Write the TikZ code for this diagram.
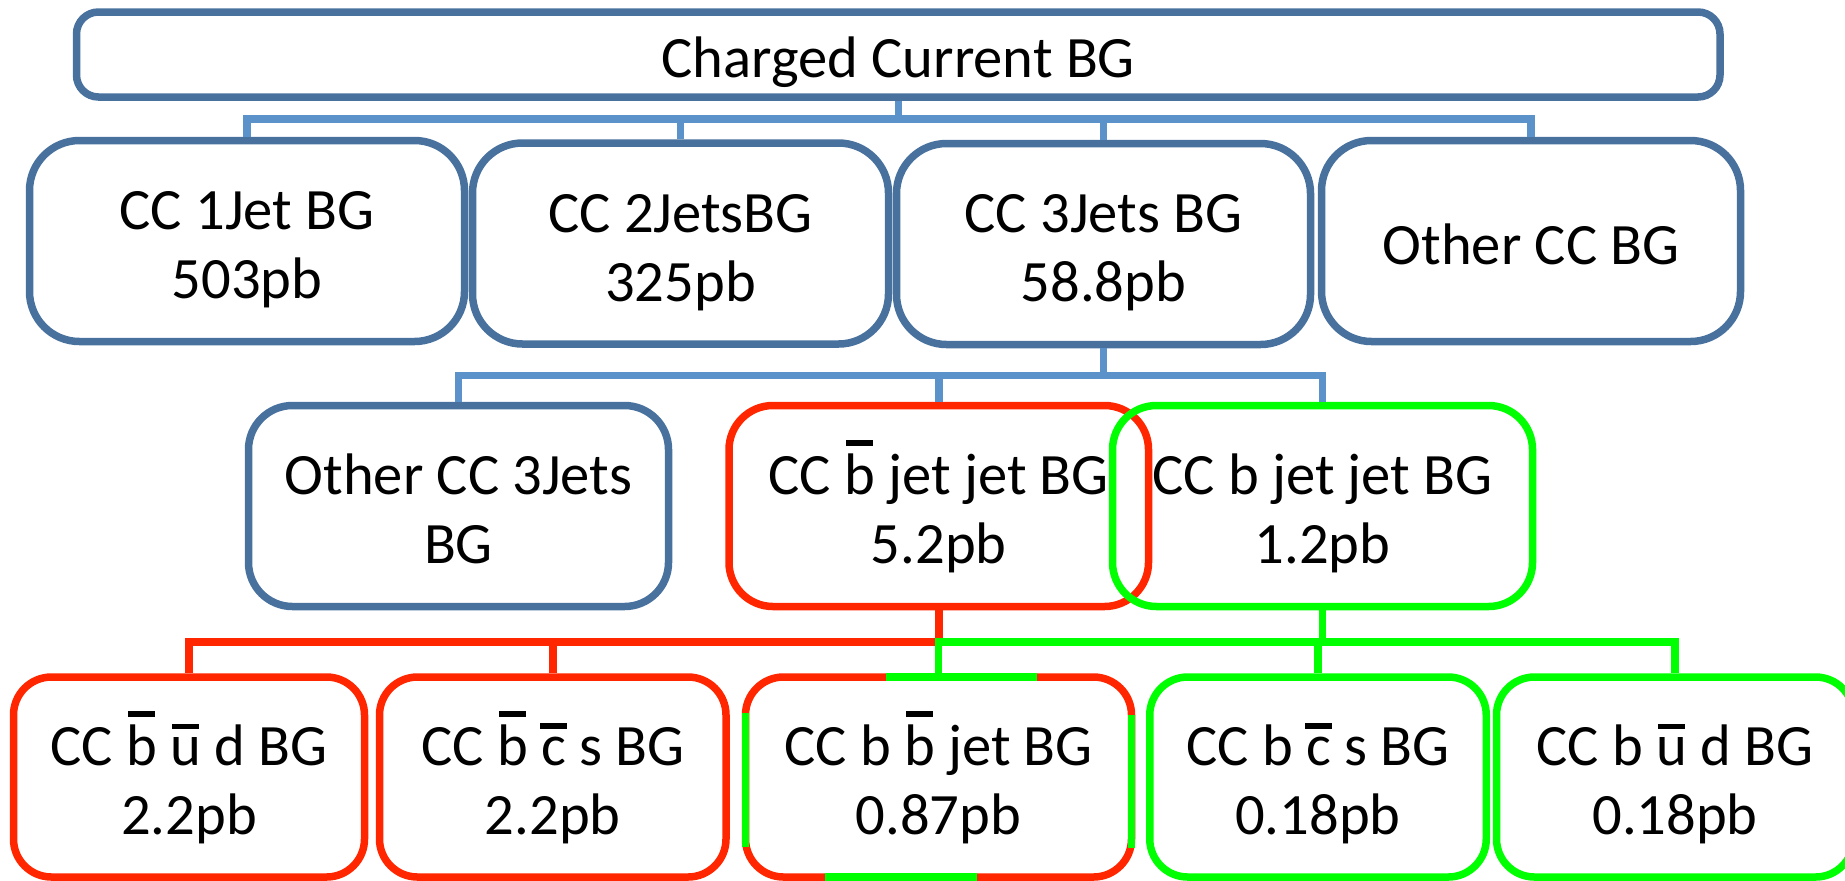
\documentclass[tikz,border=0pt]{standalone}
\usepackage{fontspec}
\setmainfont{Carlito}
\definecolor{bxblue}{HTML}{48719E}
\definecolor{cnblue}{HTML}{5B92C9}
\definecolor{myred}{HTML}{FF2600}
\definecolor{mygreen}{HTML}{00FF00}
\newsavebox\obbox
\newcommand\ob[1]{\leavevmode\sbox\obbox{#1}\rlap{\hbox to\wd\obbox{\hss\raisebox{\dimexpr\ht\obbox+4.3pt\relax}{\rule{0.46em}{2.8pt}}\hss}}\usebox\obbox}
\newcommand\ls{\rule[-0.19em]{0pt}{1.18em}}
\newcommand\boxfont{\fontsize{29.3}{34.5}\selectfont\lineskiplimit=-100pt\relax}
\begin{document}
\lineskiplimit=-100pt
\begin{tikzpicture}[x=0.5pt,y=-0.5pt,
  bx/.style={draw=bxblue, line width=3.75pt, align=center, inner sep=0pt, font=\boxfont},
  lone/.style={bx, minimum height=100.5pt, rounded corners=25pt},
  ltwo/.style={bx, minimum height=100.5pt, rounded corners=22pt},
  lthree/.style={bx, minimum height=100pt, rounded corners=19pt},
  redbx/.style={draw=myred},
  grnbx/.style={draw=mygreen},
  bconn/.style={draw=cnblue, line width=3.75pt},
  rconn/.style={draw=myred, line width=3.75pt},
  gconn/.style={draw=mygreen, line width=3.75pt},
  gseg/.style={draw=mygreen, line width=3.75pt, line cap=butt}]
\useasboundingbox (0,0) rectangle (1845,880);
\clip (0,0) rectangle (1845,880);
% top
\node[bx, minimum width=821.75pt, minimum height=42.5pt, rounded corners=11pt] (top) at (898.25,54.5) {\ls Charged Current BG};
% level 1
\node[lone, minimum width=217.5pt] (b1) at (247,241) {\ls CC 1Jet BG\\\ls 503pb};
\node[lone, minimum width=208pt] (b2) at (680.5,243.5) {\ls CC 2JetsBG\\\ls 325pb};
\node[lone, minimum width=207pt] (b3) at (1103.5,244) {\ls CC 3Jets BG\\\ls 58.8pb};
\node[lone, minimum width=209.5pt] (b4) at (1531,241) {\ls Other CC BG};
% level 2
\node[ltwo, minimum width=210pt] (o3) at (458.5,506) {\ls Other CC 3Jets\\\ls BG};
\node[ltwo, redbx, minimum width=209.75pt] (r) at (938.75,506) {\ls CC \ob{b} jet jet BG\\\ls 5.2pb};
\node[ltwo, grnbx, minimum width=210pt] (g) at (1322.5,506) {\ls CC b jet jet BG\\\ls 1.2pb};
% level 3
\node[lthree, redbx, minimum width=175.5pt] (l1) at (189,777) {\ls CC \ob{b} \ob{u} d BG\\\ls 2.2pb};
\node[lthree, redbx, minimum width=173.25pt] (l2) at (552.75,777) {\ls CC \ob{b} \ob{c} s BG\\\ls 2.2pb};
\node[lthree, redbx, minimum width=193pt] (l3) at (938.5,777) {\ls CC b \ob{b} jet BG\\\ls 0.87pb};
\node[lthree, grnbx, minimum width=168.25pt] (l4) at (1318,777) {\ls CC b \ob{c} s BG\\\ls 0.18pb};
\node[lthree, grnbx, minimum width=178.5pt] (l5) at (1675,777) {\ls CC b \ob{u} d BG\\\ls 0.18pb};
% green segments on the mixed box
\draw[gseg] ([shift={(-52.5,-100)}]l3.center) -- ([shift={(98.5,-100)}]l3.center);
\draw[gseg] ([shift={(-193,-64)}]l3.center) -- ([shift={(-193,70)}]l3.center);
\draw[gseg] ([shift={(193,-62)}]l3.center) -- ([shift={(193,71)}]l3.center);
\draw[gseg] ([shift={(-113.5,100)}]l3.center) -- ([shift={(38.5,100)}]l3.center);
% connectors level 0 -> 1
\draw[bconn] (top.south) -- ++(0,18.25) coordinate (j0);
\draw[bconn] (j0) -| (b1.north);
\draw[bconn] (j0) -| (b2.north);
\draw[bconn] (j0) -| (b3.north);
\draw[bconn] (j0) -| (b4.north);
% level 1 -> 2
\draw[bconn] (b3.south) -- ++(0,27.25) coordinate (j1);
\draw[bconn] (j1) -| (o3.north);
\draw[bconn] (j1) -| (r.north);
\draw[bconn] (j1) -| (g.north);
% level 2 -> 3
\draw[rconn] (r.south) -- ++(0,31.75) coordinate (jr);
\draw[rconn] (jr) -| (l1.north);
\draw[rconn] (jr) -| (l2.north);
\draw[gconn] (g.south) -- ++(0,31.75) coordinate (jg);
\draw[gconn] (jg) -| (l3.north);
\draw[gconn] (jg) -| (l4.north);
\draw[gconn] (jg) -| (l5.north);
\end{tikzpicture}
\end{document}
